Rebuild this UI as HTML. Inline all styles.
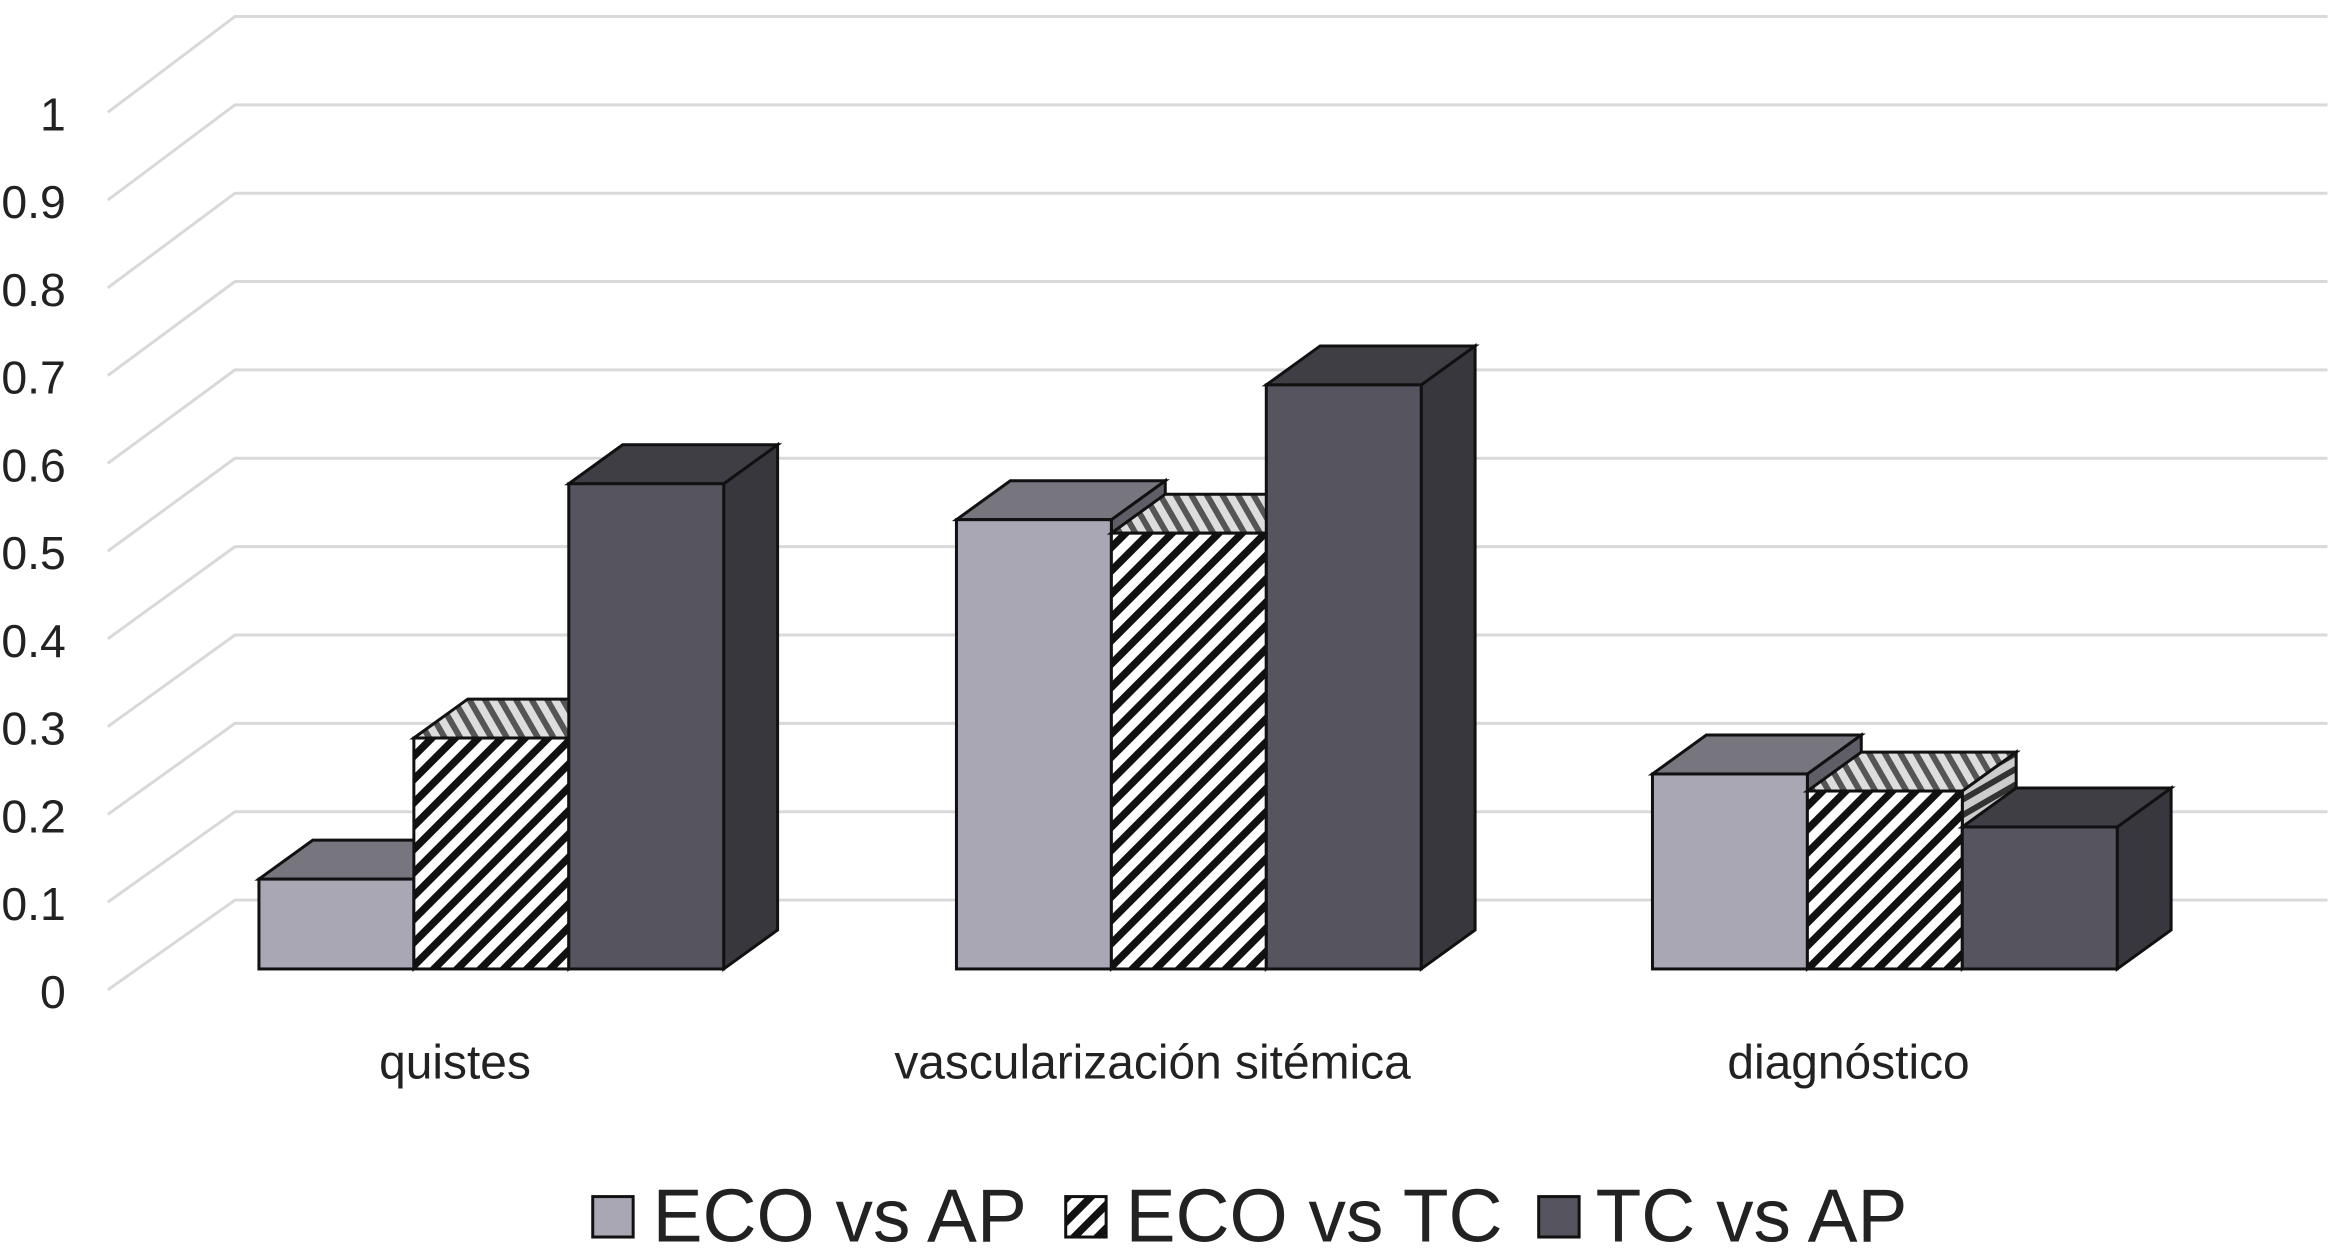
<!DOCTYPE html>
<html><head><meta charset="utf-8"><style>
html,body{margin:0;padding:0;background:#fff}
svg{display:block}
text{font-family:"Liberation Sans",Arial,sans-serif;fill:#222}
</style></head><body>
<svg id="chart" width="2335" height="1252" viewBox="0 0 1560 836" preserveAspectRatio="none" xmlns="http://www.w3.org/2000/svg">
<defs>
<pattern id="hatch" patternUnits="userSpaceOnUse" width="11" height="11" patternTransform="rotate(45)">
<rect width="11" height="11" fill="#fff"/><rect width="5" height="11" fill="#111"/></pattern>
<pattern id="hatchTop" patternUnits="userSpaceOnUse" width="9" height="9" patternTransform="rotate(-30)">
<rect width="9" height="9" fill="#ddd"/><rect width="4" height="9" fill="#555"/></pattern>
<pattern id="hatchSide" patternUnits="userSpaceOnUse" width="9" height="9" patternTransform="rotate(60)">
<rect width="9" height="9" fill="#ccc"/><rect width="4" height="9" fill="#333"/></pattern>
</defs>
<g id="grid"></g>
<g id="bars"></g>
<g id="labels"></g>
<g>
<rect x="396" y="799" width="27" height="27" fill="#a9a7b3" stroke="#111" stroke-width="2"/>
<text x="436" y="829" font-size="50">ECO vs AP</text>
<rect x="712" y="799" width="27" height="27" fill="url(#hatch)" stroke="#111" stroke-width="2"/>
<text x="752" y="829" font-size="50">ECO vs TC</text>
<rect x="1028" y="799" width="27" height="27" fill="#56555f" stroke="#111" stroke-width="2"/>
<text x="1066" y="829" font-size="50">TC vs AP</text>
</g>
</svg>
<script>
const categories = ["quistes","vascularización sitémica","diagnóstico"];
const ecoAp = [0.10, 0.50, 0.217];
const ecoTc = [0.257, 0.485, 0.198];
const tcAp = [0.54, 0.65, 0.158];
const tickLabels = ["0","0.1","0.2","0.3","0.4","0.5","0.6","0.7","0.8","0.9","1"];

const NS="http://www.w3.org/2000/svg";
function mk(tag,attrs,parent){const e=document.createElementNS(NS,tag);for(const k in attrs)e.setAttribute(k,attrs[k]);parent.appendChild(e);return e;}
const grid=document.getElementById('grid'), bars=document.getElementById('bars'), labels=document.getElementById('labels');
function yFront(v){return 647-600*v;}
const DX=36, DY=-26;
tickLabels.forEach((t,k)=>{
  const yb=601-59*k, yf=661-58.6*k;
  const l=mk('polyline',{points:`72,${yf} 157,${yb} 1555,${yb}`,fill:'none',stroke:'#d9d9d9','stroke-width':2},grid);
  
  
  const tx=mk('text',{x:44,y:yf+12,'font-size':31,'text-anchor':'end'},labels);
  tx.textContent=t;
  
  
});
const groupX=[173,639,1104], W=103.5;
const series=[
 {vals:ecoAp,front:'#a9a7b3',top:'#77767e',side:'#5f5e66',name:'eco-ap'},
 {vals:ecoTc,front:'url(#hatch)',top:'url(#hatchTop)',side:'url(#hatchSide)',name:'eco-tc'},
 {vals:tcAp,front:'#56555f',top:'#3f3e45',side:'#38373d',name:'tc-ap'}];
categories.forEach((c,i)=>{
  series.forEach((s,j)=>{
    const x=groupX[i]+j*W, y=yFront(s.vals[i]), b=647;
    const g=mk('g',{},bars);
    
    
    mk('polygon',{points:`${x+W},${b} ${x+W+DX},${b+DY} ${x+W+DX},${y+DY} ${x+W},${y}`,fill:s.side,stroke:'#111','stroke-width':2},g);
    mk('polygon',{points:`${x},${y} ${x+DX},${y+DY} ${x+W+DX},${y+DY} ${x+W},${y}`,fill:s.top,stroke:'#111','stroke-width':2},g);
    mk('rect',{x:x,y:y,width:W,height:b-y,fill:s.front,stroke:'#111','stroke-width':2},g);
  });
  const t=mk('text',{x:groupX[i]+131,y:720,'font-size':32,'text-anchor':'middle'},labels);
  t.textContent=c;
  
  
});
</script>
</body></html>
